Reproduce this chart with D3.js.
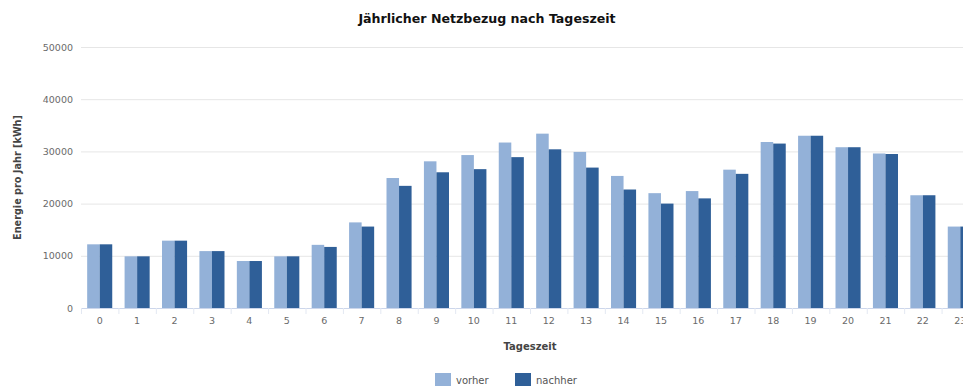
<!DOCTYPE html>
<html>
<head>
<meta charset="utf-8">
<script src="https://cdn.jsdelivr.net/npm/d3@7/dist/d3.min.js"></script>
<style>
  html, body { margin: 0; padding: 0; background: #fff; overflow: hidden; }
  svg { display: block; font-family: "DejaVu Sans", Verdana, sans-serif; }
</style>
</head>
<body>
<svg id="chart" width="1000" height="390"></svg>
<script>
// Hour of day (categories)
const hours = ["0","1","2","3","4","5","6","7","8","9","10","11","12","13","14","15","16","17","18","19","20","21","22","23"];
// Annual grid consumption per hour, kWh
const vorher  = [12200, 9900, 12900, 10900, 9000, 9900, 12100, 16400, 24900, 28100, 29300, 31700, 33400, 29900, 25300, 22000, 22400, 26500, 31800, 33000, 30800, 29600, 21600, 15600];
const nachher = [12200, 9900, 12900, 10900, 9000, 9900, 11700, 15600, 23400, 26000, 26600, 28900, 30400, 26900, 22700, 20000, 21000, 25700, 31500, 33000, 30800, 29500, 21600, 15600];
const seriesNames = ["vorher", "nachher"];
const yTicks = [0, 10000, 20000, 30000, 40000, 50000];

const colors = { vorher: "#93b1d8", nachher: "#2f5f98" };

const svg = d3.select("#chart");
const plotLeft = 81, plotRight = 979, plotTop = 47, plotBottom = 308;

const x = d3.scaleBand().domain(hours).range([plotLeft, plotRight]).paddingInner(0.33).paddingOuter(0.165);
const xs = d3.scaleBand().domain(seriesNames).range([0, x.bandwidth()]);
const y = d3.scaleLinear().domain([0, 50000]).range([plotBottom, plotTop]);

// Horizontal grid lines
svg.append("g").selectAll("line").data(yTicks.filter(t => t > 0)).join("line")
  .attr("x1", plotLeft).attr("x2", plotRight)
  .attr("y1", d => y(d) + 0.5).attr("y2", d => y(d) + 0.5)
  .attr("stroke", "#e6e6e6").attr("stroke-width", 1);

// Y axis labels
const yAxis = d3.axisLeft(y).tickValues(yTicks).tickSize(0).tickPadding(0).tickFormat(d3.format("d"));
const gy = svg.append("g").attr("transform", `translate(${plotLeft - 8},0)`).call(yAxis);
gy.select(".domain").remove();
gy.selectAll("text").attr("fill", "#6a6a6a").attr("font-size", "9.5px").attr("font-family", "DejaVu Sans, sans-serif");

// Bars
const data = hours.map((h, i) => ({ h, vals: [{ k: "vorher", v: vorher[i] }, { k: "nachher", v: nachher[i] }] }));
const groups = svg.append("g").selectAll("g").data(data).join("g")
  .attr("transform", d => `translate(${x(d.h)},0)`);
groups.selectAll("rect").data(d => d.vals).join("rect")
  .attr("x", d => xs(d.k))
  .attr("width", xs.bandwidth())
  .attr("y", d => y(d.v))
  .attr("height", d => y(0) - y(d.v))
  .attr("fill", d => colors[d.k]);

// X axis
const xAxis = d3.axisBottom(x).tickSize(0).tickPadding(9);
const gx = svg.append("g").attr("transform", `translate(0,${plotBottom})`).call(xAxis);
gx.select(".domain").attr("stroke", "#ccd6eb").attr("d", `M${plotLeft},0.5H${plotRight}`);
gx.selectAll("text").attr("fill", "#6a6a6a").attr("font-size", "9.5px").attr("font-family", "DejaVu Sans, sans-serif");
// category separator ticks
svg.append("g").selectAll("line").data(hours).join("line")
  .attr("x1", d => x(d) - x.step() * x.paddingInner() / 2 + 0.5)
  .attr("x2", d => x(d) - x.step() * x.paddingInner() / 2 + 0.5)
  .attr("y1", plotBottom).attr("y2", plotBottom + 6)
  .attr("stroke", "#e3e8f2");

// Title
svg.append("text").attr("x", 487).attr("y", 23).attr("text-anchor", "middle")
  .attr("font-size", "12.6px").attr("font-weight", "bold").attr("fill", "#111")
  .text("Jährlicher Netzbezug nach Tageszeit");

// Axis titles
svg.append("text").attr("x", 530).attr("y", 350).attr("text-anchor", "middle")
  .attr("font-size", "10px").attr("font-weight", "bold").attr("fill", "#444")
  .text("Tageszeit");
svg.append("text").attr("transform", `translate(21,${(plotTop + plotBottom) / 2}) rotate(-90)`)
  .attr("text-anchor", "middle").attr("font-size", "9.7px").attr("font-weight", "bold").attr("fill", "#444")
  .text("Energie pro Jahr [kWh]");

// Legend
const legendItems = [{ k: "vorher", x: 435 }, { k: "nachher", x: 515 }];
const lg = svg.append("g").selectAll("g").data(legendItems).join("g")
  .attr("transform", d => `translate(${d.x},373)`);
lg.append("rect").attr("width", 16).attr("height", 13).attr("fill", d => colors[d.k]);
lg.append("text").attr("x", 21).attr("y", 11).attr("font-size", "10px").attr("fill", "#555")
  .text(d => d.k);
</script>
</body>
</html>
